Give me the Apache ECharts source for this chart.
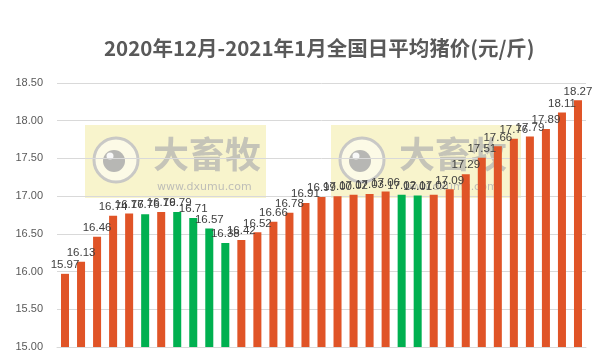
<!DOCTYPE html>
<html>
<head>
<meta charset="utf-8">
<script src="https://cdn.jsdelivr.net/npm/echarts@6/dist/echarts.min.js"></script>
<style>
    html, body { margin: 0; padding: 0; background: #fff; }
    #chart { width: 604px; height: 364px; }
</style>
</head>
<body>
<div id="chart"></div>
<script>
// daily average pig price, 2020-12 .. 2021-01 (yuan / jin)
const days = [];
for (let i = 1; i <= 33; i++) days.push(String(i));

const prices = [
    15.97, 16.13, 16.46, 16.74, 16.77, 16.76, 16.79, 16.79, 16.71, 16.57,
    16.38, 16.42, 16.52, 16.66, 16.78, 16.91, 16.99, 17.00, 17.02, 17.03,
    17.06, 17.02, 17.01, 17.02, 17.09, 17.29, 17.51, 17.66, 17.76, 17.79,
    17.89, 18.11, 18.27
];

const yTicks = { min: 15, max: 18.5, step: 0.5 };

const UP = '#E05427';
const DOWN = '#00B050';

const barData = prices.map((v, i) => ({
    value: v,
    itemStyle: { color: i > 0 && v <= prices[i - 1] ? DOWN : UP }
}));

// watermark stamp ("大畜牧" logo), drawn twice over the plot
function stamp(x, y, w) {
    return {
        type: 'group',
        x: x, y: y,
        z: 100,
        children: [
            { type: 'rect', shape: { x: 0, y: 0, width: w, height: 73 },
              style: { fill: 'rgba(243,236,170,0.6)' } },
            { type: 'circle', shape: { cx: 31, cy: 35, r: 22 },
              style: { fill: 'rgba(255,255,255,0.5)', stroke: 'rgba(195,195,195,0.9)', lineWidth: 3 } },
            { type: 'circle', shape: { cx: 29, cy: 36, r: 11 },
              style: { fill: 'rgba(170,170,170,0.85)' } },
            { type: 'circle', shape: { cx: 25, cy: 31, r: 3.5 },
              style: { fill: 'rgba(255,255,255,0.9)' } },
            { type: 'text', x: 68, y: 11,
              style: { text: '大畜牧', font: 'bold 36px "Noto Sans CJK SC"', fill: 'rgba(175,175,175,0.7)' } },
            { type: 'text', x: 72, y: 57,
              style: { text: 'www.dxumu.com', font: '11px "DejaVu Sans"', fill: 'rgba(180,180,180,0.85)' } }
        ]
    };
}

const chart = echarts.init(document.getElementById('chart'));

chart.setOption({
    backgroundColor: '#fff',
    animation: false,
    title: {
        text: '2020年12月-2021年1月全国日平均猪价(元/斤)',
        left: 99,
        top: 33,
        textStyle: {
            fontFamily: '"Noto Sans CJK SC"',
            fontSize: 20.5,
            fontWeight: 'bold',
            color: '#595959'
        }
    },
    grid: { left: 57, right: 18, top: 83, bottom: 17 },
    xAxis: {
        type: 'category',
        data: days,
        axisLine: { lineStyle: { color: '#D9D9D9' } },
        axisTick: { show: false },
        axisLabel: { show: false }
    },
    yAxis: {
        type: 'value',
        min: yTicks.min,
        max: yTicks.max,
        interval: yTicks.step,
        axisLine: { show: false },
        axisTick: { show: false },
        splitLine: { lineStyle: { color: '#D9D9D9' } },
        axisLabel: {
            color: '#595959',
            fontSize: 11,
            fontFamily: '"Liberation Sans"',
            margin: 14,
            formatter: v => v.toFixed(2)
        }
    },
    series: [{
        type: 'bar',
        data: barData,
        barWidth: '50%',
        label: {
            show: true,
            position: 'top',
            distance: 3,
            color: '#404040',
            fontSize: 11.5,
            fontFamily: '"Liberation Sans"',
            formatter: p => p.value.toFixed(2)
        }
    }],
    graphic: [stamp(85, 125, 181), stamp(331, 125, 190)]
});
</script>
</body>
</html>
